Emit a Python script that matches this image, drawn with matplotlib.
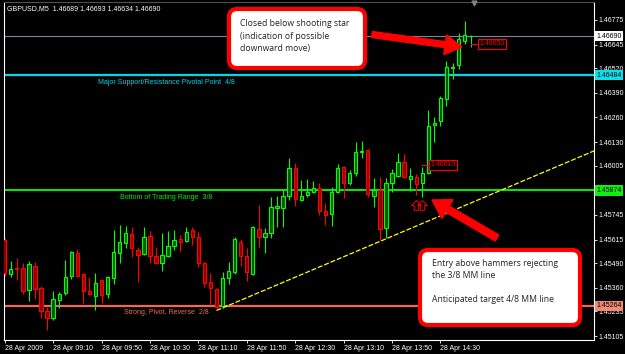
import matplotlib
matplotlib.use("Agg")
import matplotlib.pyplot as plt
from matplotlib.patches import FancyBboxPatch, FancyArrow
from matplotlib.path import Path
from matplotlib.transforms import blended_transform_factory
import numpy as np

# GBPUSD M5, 28 Apr 2009 08:30 .. 14:55
symbol = "GBPUSD,M5"
opens = [1.45613, 1.45433, 1.45465, 1.45465, 1.45348, 1.45475, 1.45359, 1.45237, 1.45200, 1.45296,
         1.45333, 1.45422, 1.45544, 1.45433, 1.45343, 1.45317, 1.45401, 1.45327, 1.45412, 1.45544,
         1.45597, 1.45644, 1.45560, 1.45539, 1.45634, 1.45528, 1.45491, 1.45528, 1.45581, 1.45618,
         1.45607, 1.45665, 1.45629, 1.45491, 1.45391, 1.45354, 1.45264, 1.45412, 1.45444, 1.45602,
         1.45528, 1.45433, 1.45671, 1.45629, 1.45650, 1.45782, 1.45782, 1.45845, 1.45993, 1.45824,
         1.45850, 1.45866, 1.45887, 1.45766, 1.45750, 1.45866, 1.45998, 1.45914, 1.45967, 1.46078,
         1.46088, 1.45845, 1.45877, 1.45676, 1.45914, 1.45951, 1.46025, 1.45935, 1.45946, 1.45914,
         1.45967, 1.46220, 1.46242, 1.46358, 1.46522, 1.46538, 1.46664, 1.46689]
highs = [1.45623, 1.45502, 1.45518, 1.45491, 1.45502, 1.45496, 1.45370, 1.45259, 1.45343, 1.45338,
         1.45507, 1.45555, 1.45565, 1.45438, 1.45417, 1.45438, 1.45407, 1.45422, 1.45665, 1.45692,
         1.45687, 1.45681, 1.45576, 1.45681, 1.45660, 1.45576, 1.45650, 1.45660, 1.45665, 1.45639,
         1.45681, 1.45681, 1.45655, 1.45496, 1.45438, 1.45359, 1.45444, 1.45496, 1.45629, 1.45618,
         1.45570, 1.45687, 1.45798, 1.45676, 1.45840, 1.45845, 1.45877, 1.46046, 1.46020, 1.45930,
         1.45935, 1.45924, 1.45914, 1.45808, 1.45893, 1.46014, 1.46004, 1.45983, 1.46131, 1.46136,
         1.46094, 1.45940, 1.45946, 1.45940, 1.45988, 1.46072, 1.46067, 1.45993, 1.45961, 1.45998,
         1.46300, 1.46263, 1.46374, 1.46559, 1.46548, 1.46707, 1.46770, 1.46693]
lows = [1.45422, 1.45417, 1.45401, 1.45327, 1.45290, 1.45301, 1.45200, 1.45137, 1.45190, 1.45253,
        1.45322, 1.45407, 1.45417, 1.45280, 1.45322, 1.45243, 1.45280, 1.45306, 1.45380, 1.45491,
        1.45570, 1.45523, 1.45391, 1.45533, 1.45491, 1.45486, 1.45449, 1.45523, 1.45560, 1.45549,
        1.45602, 1.45586, 1.45470, 1.45364, 1.45269, 1.45250, 1.45253, 1.45380, 1.45433, 1.45475,
        1.45396, 1.45428, 1.45576, 1.45544, 1.45623, 1.45681, 1.45681, 1.45824, 1.45792, 1.45819,
        1.45840, 1.45861, 1.45745, 1.45692, 1.45687, 1.45861, 1.45835, 1.45903, 1.45951, 1.46046,
        1.45840, 1.45787, 1.45613, 1.45623, 1.45866, 1.45946, 1.45940, 1.45872, 1.45850, 1.45840,
        1.45961, 1.46131, 1.46215, 1.46321, 1.46464, 1.46516, 1.46649, 1.46634]
closes = [1.45438, 1.45459, 1.45459, 1.45343, 1.45486, 1.45354, 1.45237, 1.45200, 1.45301, 1.45327,
          1.45417, 1.45549, 1.45422, 1.45343, 1.45327, 1.45385, 1.45322, 1.45417, 1.45549, 1.45602,
          1.45650, 1.45570, 1.45533, 1.45629, 1.45528, 1.45491, 1.45533, 1.45581, 1.45613, 1.45602,
          1.45655, 1.45629, 1.45491, 1.45385, 1.45359, 1.45259, 1.45412, 1.45449, 1.45618, 1.45528,
          1.45444, 1.45681, 1.45629, 1.45650, 1.45787, 1.45792, 1.45845, 1.45993, 1.45829, 1.45845,
          1.45866, 1.45887, 1.45766, 1.45745, 1.45866, 1.45993, 1.45914, 1.45967, 1.46078, 1.46083,
          1.45856, 1.45877, 1.45671, 1.45914, 1.45967, 1.46025, 1.45946, 1.45951, 1.45909, 1.45967,
          1.46215, 1.46231, 1.46363, 1.46527, 1.46527, 1.46675, 1.46696, 1.46690]

# time axis: bar index of each label
time_ticks = [0, 8, 16, 24, 32, 40, 48, 56, 64, 72]
time_labels = ["28 Apr 2009", "28 Apr 09:10", "28 Apr 09:50", "28 Apr 10:30", "28 Apr 11:10",
               "28 Apr 11:50", "28 Apr 12:30", "28 Apr 13:10", "28 Apr 13:50", "28 Apr 14:30"]
price_ticks = [1.46775, 1.46645, 1.46520, 1.46390, 1.46260, 1.46130, 1.46005,
               1.45745, 1.45615, 1.45490, 1.45360, 1.45235, 1.45105]

# Murrey math lines and current price
levels = [1.46690, 1.46484, 1.45874, 1.45264]
level_names = ["", "Major Support/Resistance Pivotal Point  4/8",
               "Bottom of Trading Range  3/8", "Strong, Pivot, Reverse  2/8"]
level_colors = ["#778899", "#00d8e8", "#00ee00", "#f06a52"]
level_tags = ["#ffffff", "#00e4f4", "#10f010", "#f48870"]

# trend line anchors (bar, price)
trend_pts = [(35, 1.45240), (62, 1.45605)]

# price labels (bar, price)
price_marks = [(69, 1.46010), (77, 1.46650)]
hammer_bars = [68, 69]

o, h, l, c = map(np.array, (opens, highs, lows, closes))
idx = np.arange(len(o))
up = c >= o

W, H = 625, 354
fig = plt.figure(figsize=(W / 100, H / 100), dpi=100, facecolor="black")
ax = fig.add_axes([3.5 / W, 1 - 340 / H, (594 - 3.5) / W, (340 - 2) / H])
ax.set_facecolor("black")
px_bar, x0 = 6.052, 4.7
ax.set_xlim((3.5 - x0) / px_bar, (594 - x0) / px_bar)
ax.set_ylim(1.45084, 1.46870)

mt_font = "Liberation Sans"

# candles
edge = np.where(up, "#00ff00", "#ff0000")
fill = np.where(up, "#005500", "#8b0000")
ax.vlines(idx, l, h, colors=edge, lw=0.8, zorder=3)
body = np.maximum(np.abs(c - o), 0.00002)
ax.bar(idx, body, bottom=np.minimum(o, c), width=0.55, color=fill,
       edgecolor=edge, linewidth=0.8, zorder=4)

# level lines
lw_levels = [0.8, 1.6, 1.4, 1.6]
name_x = [0, 15.4, 19.0, 19.7]
tr = blended_transform_factory(ax.transAxes, ax.transData)
for p, name, col, tag, lw, nx in zip(levels, level_names, level_colors, level_tags, lw_levels, name_x):
    ax.axhline(p, color=col, lw=lw, zorder=2)
    if name:
        ax.annotate(name, (nx, p), xytext=(0, -2.5), textcoords="offset points",
                    color=col, fontsize=5, family=mt_font, va="top", ha="left", zorder=5)
    ax.text(1.004, p, f"{p:.5f}", transform=tr, fontsize=5, family=mt_font, color="black",
            va="center", ha="left", clip_on=False, zorder=10,
            bbox=dict(boxstyle="square,pad=0.25", fc=tag, ec="none"))

# trend line (ray)
(xa, ya), (xb, yb) = trend_pts
slope = (yb - ya) / (xb - xa)
xe = ax.get_xlim()[1]
ax.plot([xa, xe], [ya, ya + slope * (xe - xa)], color="#ffff00", lw=0.9,
        ls=(0, (4, 1.5)), zorder=5)

# price label objects
for b, p in price_marks:
    ax.plot([b, b + 1.35], [p, p], color="#ff0000", lw=0.9, zorder=6)
    ax.text(b + 1.4, p, f"{p:.5f}", color="#ff0000", fontsize=5, family=mt_font,
            va="center", ha="left", zorder=7,
            bbox=dict(boxstyle="square,pad=0.2", fc="black", ec="#ff0000", lw=0.8))

# hammer arrows (hollow up arrows below the lows)
up_arrow = Path([(0, 1), (-1, 0), (-0.45, 0), (-0.45, -1), (0.45, -1), (0.45, 0), (1, 0), (0, 1)],
                [Path.MOVETO] + [Path.LINETO] * 6 + [Path.CLOSEPOLY])
base = min(l[b] for b in hammer_bars)
for b in hammer_bars:
    ax.annotate("", (b, base))
    ax.plot(b, base, marker=up_arrow, ms=7, mfc="none", mec="#dd0000", mew=0.8,
            transform=ax.transData + matplotlib.transforms.ScaledTranslation(0, -8 / 100, fig.dpi_scale_trans),
            zorder=6)

# axes styling
for s in ["left", "right", "bottom"]:
    ax.spines[s].set_color("white")
    ax.spines[s].set_linewidth(0.8)
ax.spines["top"].set_color("#505050")
ax.yaxis.tick_right()
ax.set_yticks(price_ticks)
ax.set_yticklabels([f"{p:.5f}" for p in price_ticks])
ax.set_xticks(time_ticks)
ax.set_xticklabels(time_labels)
ax.tick_params(colors="white", labelsize=5, length=2.5, width=0.6, pad=1)
for lab in ax.get_xticklabels() + ax.get_yticklabels():
    lab.set_family(mt_font)
for lab in ax.get_xticklabels():
    lab.set_horizontalalignment("left")

# overlay in pixel coordinates for the callouts
ov = fig.add_axes([0, 0, 1, 1])
ov.set_xlim(0, W)
ov.set_ylim(H, 0)
ov.axis("off")
ov.patch.set_alpha(0)

ov.text(7, 9, f"{symbol}  {o[-1]:.5f} {h[-1]:.5f} {l[-1]:.5f} {c[-1]:.5f}",
        color="white", fontsize=5, family=mt_font, va="center")
ov.plot(474, 3, marker="v", ms=3.5, color="#808080")

note_font = "Open Sans"
box1 = FancyBboxPatch((229, 9), 136, 59, boxstyle="round,pad=0,rounding_size=8",
                      fc="white", ec="#ff0000", lw=3, zorder=8)
box2 = FancyBboxPatch((420, 250), 160, 75, boxstyle="round,pad=0,rounding_size=8",
                      fc="white", ec="#ff0000", lw=3, zorder=8)
ov.add_patch(box1)
ov.add_patch(box2)
for y, s in zip([24, 36.5, 48.5], ["Closed below shooting star", "(indication of possible",
                                    "downward move)"]):
    ov.text(239.5, y, s, fontsize=6.2, family=note_font, color="#222222", va="center", zorder=9)
for y, s in zip([263, 276, 300], ["Entry above hammers rejecting", "the 3/8 MM line",
                                  "Anticipated target 4/8 MM line"]):
    ov.text(431.5, y, s, fontsize=6.2, family=note_font, color="#222222", va="center", zorder=9)

ov.add_patch(FancyArrow(372, 34.5, 90, 12.5, width=6, head_width=20, head_length=17,
                        length_includes_head=True, color="#ff0000", zorder=9))
ov.add_patch(FancyArrow(497, 238, -65, -38, width=7, head_width=22, head_length=18,
                        length_includes_head=True, color="#ff0000", zorder=9))

fig.savefig("out.png", dpi=100, facecolor="black")
